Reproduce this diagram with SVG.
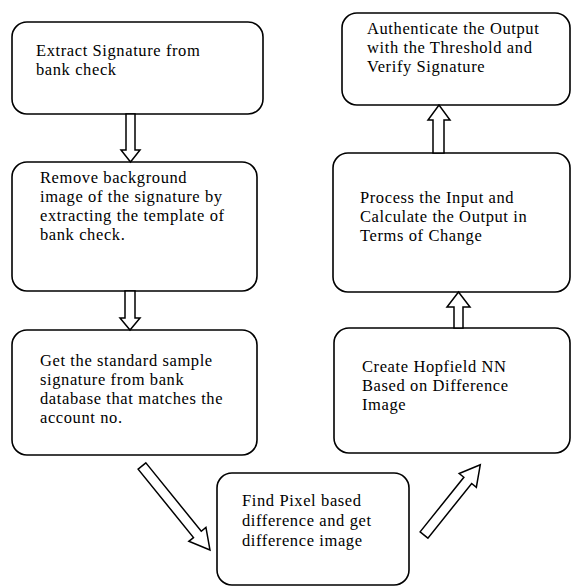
<svg xmlns="http://www.w3.org/2000/svg" width="573" height="587" viewBox="0 0 573 587">
<style>
.box{fill:#fff;stroke:#000;stroke-width:1.6}
.arr{fill:#fff;stroke:#000;stroke-width:1.5;stroke-linejoin:miter}
text{font-family:"Liberation Serif","Times New Roman",serif;font-size:16.5px;letter-spacing:0.6px;fill:#000}
</style>
<rect width="573" height="587" fill="#fff"/>
<g id="extract">
<rect class="box" x="12" y="22" width="251" height="92" rx="15"/>
<text x="36" y="56">Extract Signature from</text>
<text x="36" y="75">bank check</text>
</g>
<g id="remove">
<rect class="box" x="12" y="162" width="245" height="129" rx="15"/>
<text x="40" y="183">Remove background</text>
<text x="40" y="202">image of the signature by</text>
<text x="40" y="221">extracting the template of</text>
<text x="40" y="240">bank check.</text>
</g>
<g id="getsample">
<rect class="box" x="12" y="330" width="245" height="125" rx="15"/>
<text x="40" y="366">Get the standard sample</text>
<text x="40" y="385">signature from bank</text>
<text x="40" y="404">database that matches the</text>
<text x="40" y="423">account no.</text>
</g>
<g id="findpixel">
<rect class="box" x="217" y="473" width="192" height="112" rx="15"/>
<text x="242" y="506">Find Pixel based</text>
<text x="242" y="526">difference and get</text>
<text x="242" y="546">difference image</text>
</g>
<g id="hopfield">
<rect class="box" x="334" y="328" width="236" height="125" rx="15"/>
<text x="362" y="372">Create Hopfield NN</text>
<text x="362" y="391">Based on Difference</text>
<text x="362" y="410">Image</text>
</g>
<g id="process">
<rect class="box" x="333" y="153" width="237" height="139" rx="15"/>
<text x="360" y="203">Process the Input and</text>
<text x="360" y="222">Calculate the Output in</text>
<text x="360" y="241">Terms of Change</text>
</g>
<g id="authenticate">
<rect class="box" x="342" y="13" width="228" height="92" rx="15"/>
<text x="367" y="34">Authenticate the Output</text>
<text x="367" y="53">with the Threshold and</text>
<text x="367" y="72">Verify Signature</text>
</g>
<g id="connectors">
<polygon class="arr" points="126,114 135,114 135,150 140,150 130.5,162 121,150 126,150"/>
<polygon class="arr" points="125,291 135,291 135,318 140,318 130,330 120,318 125,318"/>
<g transform="translate(142,466) rotate(51)"><polygon class="arr" points="0,-5 88,-5 88,-11 108,0 88,11 88,5 0,5"/></g>
<g transform="translate(424,535) rotate(-51.3)"><polygon class="arr" points="0,-5 70,-5 70,-11 90,0 70,11 70,5 0,5"/></g>
<polygon class="arr" points="454,328 463,328 463,307 470,307 458.5,292 447,307 454,307"/>
<polygon class="arr" points="433,153 444,153 444,120 450,120 439,105 428,120 433,120"/>
</g>
</svg>
